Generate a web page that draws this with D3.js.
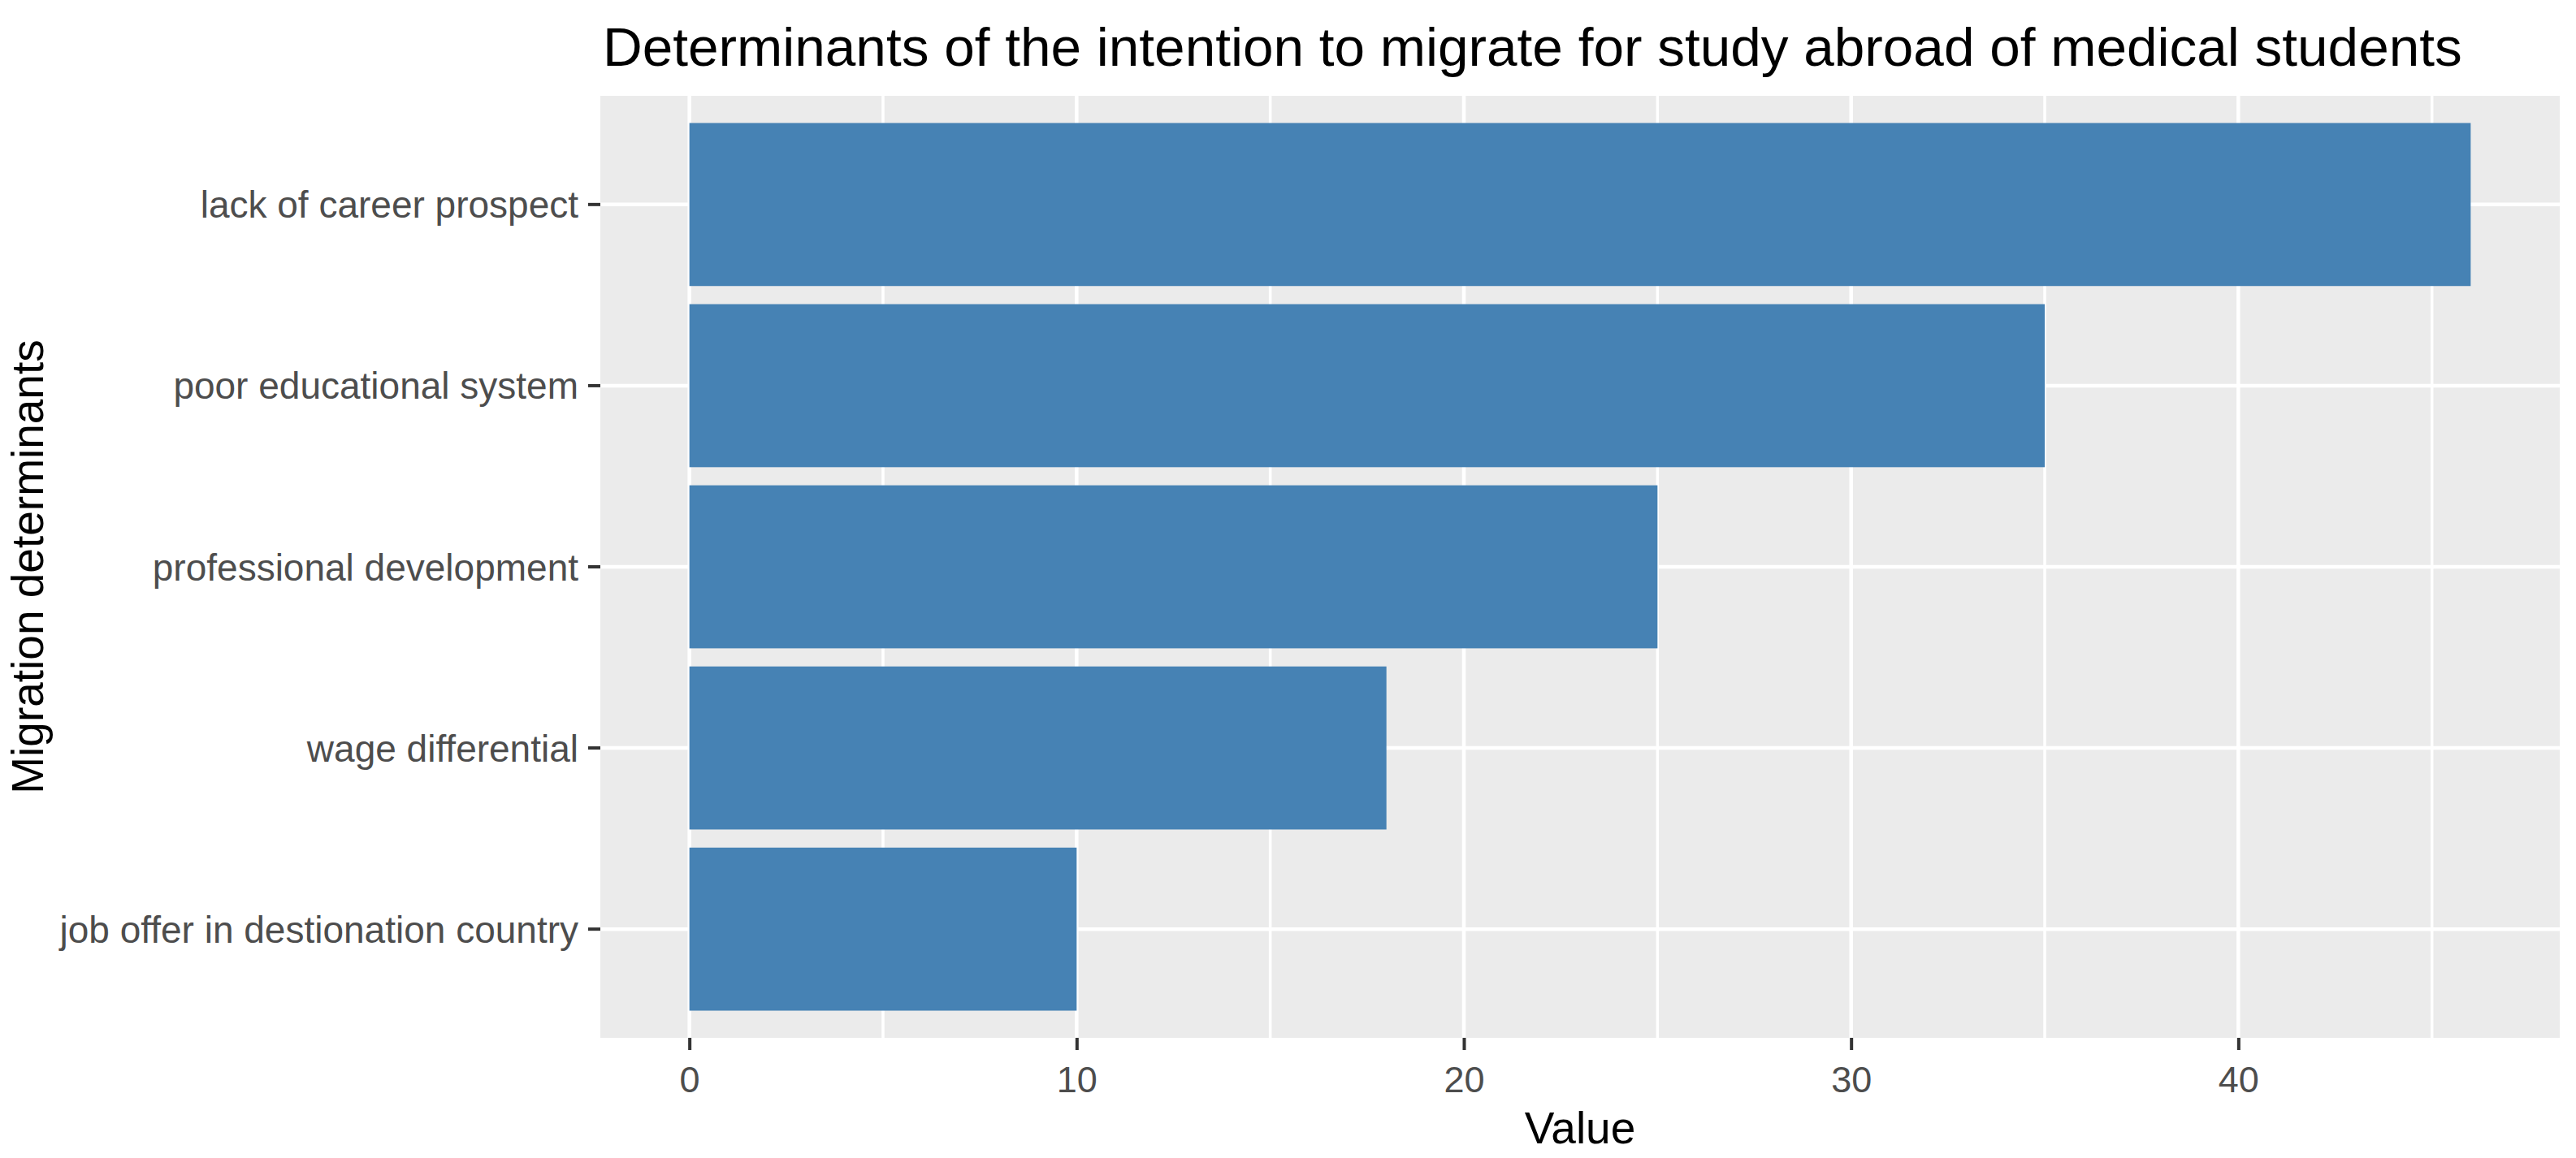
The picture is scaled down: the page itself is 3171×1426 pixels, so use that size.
<!DOCTYPE html>
<html>
<head>
<meta charset="utf-8">
<script src="https://cdn.jsdelivr.net/npm/d3@7"></script>
<style>
  html, body { margin: 0; padding: 0; background: #ffffff; }
  svg { display: block; }
</style>
</head>
<body>
<script>
// ---- data ----
const categories = [
  "lack of career prospect",
  "poor educational system",
  "professional development",
  "wage differential",
  "job offer in destionation country"
];
const values = [46, 35, 25, 18, 10];
const xTicks = [0, 10, 20, 30, 40];
const xMinorTicks = [5, 15, 25, 35, 45];
const titleText = "Determinants of the intention to migrate for study abroad of medical students";
const xTitle = "Value";
const yTitle = "Migration determinants";

// ---- layout ----
const W = 3171, H = 1426;
const panel = { left: 739, right: 3151, top: 118, bottom: 1278 };
const font = "'Liberation Sans', Arial, sans-serif";

const svg = d3.select("body").append("svg")
  .attr("width", W).attr("height", H)
  .style("font-family", font);

svg.append("rect").attr("width", W).attr("height", H).attr("fill", "#ffffff");

// x scale with ggplot-style 5% expansion
const xMax = d3.max(values);
const pad = xMax * 0.05;
const x = d3.scaleLinear().domain([-pad, xMax + pad]).range([panel.left, panel.right]);

// y band scale (discrete expansion 0.6 units each side, bar width 0.9)
const y = d3.scaleBand()
  .domain(categories)
  .range([panel.top, panel.bottom])
  .paddingInner(0.1)
  .paddingOuter(0.15);

// panel background
svg.append("rect")
  .attr("x", panel.left).attr("y", panel.top)
  .attr("width", panel.right - panel.left).attr("height", panel.bottom - panel.top)
  .attr("fill", "#EBEBEB");

const grid = svg.append("g");
// minor vertical gridlines
grid.selectAll("line.minor").data(xMinorTicks).enter().append("line")
  .attr("class", "minor")
  .attr("x1", d => x(d)).attr("x2", d => x(d))
  .attr("y1", panel.top).attr("y2", panel.bottom)
  .attr("stroke", "#ffffff").attr("stroke-width", 3.5);
// major vertical gridlines
grid.selectAll("line.majorx").data(xTicks).enter().append("line")
  .attr("class", "majorx")
  .attr("x1", d => x(d)).attr("x2", d => x(d))
  .attr("y1", panel.top).attr("y2", panel.bottom)
  .attr("stroke", "#ffffff").attr("stroke-width", 4.5);
// major horizontal gridlines
grid.selectAll("line.majory").data(categories).enter().append("line")
  .attr("class", "majory")
  .attr("x1", panel.left).attr("x2", panel.right)
  .attr("y1", d => y(d) + y.bandwidth() / 2).attr("y2", d => y(d) + y.bandwidth() / 2)
  .attr("stroke", "#ffffff").attr("stroke-width", 4.5);

// bars
svg.append("g").selectAll("rect").data(categories).enter().append("rect")
  .attr("x", x(0))
  .attr("y", d => y(d))
  .attr("width", (d, i) => x(values[i]) - x(0))
  .attr("height", y.bandwidth())
  .attr("fill", "#4682B4");

// x axis
const xAxis = d3.axisBottom(x).tickValues(xTicks).tickSize(15).tickPadding(20).tickFormat(d3.format("d"));
const gx = svg.append("g").attr("transform", `translate(0,${panel.bottom})`).call(xAxis);
gx.select(".domain").remove();
gx.selectAll(".tick line").attr("stroke", "#333333").attr("stroke-width", 4);
gx.selectAll(".tick text").attr("fill", "#4D4D4D").style("font-size", "45px").style("font-family", font);

// y axis
const yAxis = d3.axisLeft(y).tickSize(15).tickPadding(12);
const gy = svg.append("g").attr("transform", `translate(${panel.left},0)`).call(yAxis);
gy.select(".domain").remove();
gy.selectAll(".tick line").attr("stroke", "#333333").attr("stroke-width", 4);
gy.selectAll(".tick text").attr("fill", "#4D4D4D").style("font-size", "46px").style("font-family", font)
  .attr("dy", "0.36em");

// title
svg.append("text")
  .attr("x", 742).attr("y", 81)
  .attr("fill", "#000000")
  .style("font-size", "67.5px")
  .text(titleText);

// x title
svg.append("text")
  .attr("x", (panel.left + panel.right) / 2).attr("y", 1408)
  .attr("text-anchor", "middle")
  .attr("fill", "#000000")
  .style("font-size", "55px")
  .text(xTitle);

// y title
svg.append("text")
  .attr("transform", `translate(53,${(panel.top + panel.bottom) / 2}) rotate(-90)`)
  .attr("text-anchor", "middle")
  .attr("fill", "#000000")
  .style("font-size", "55px")
  .text(yTitle);
</script>
</body>
</html>
